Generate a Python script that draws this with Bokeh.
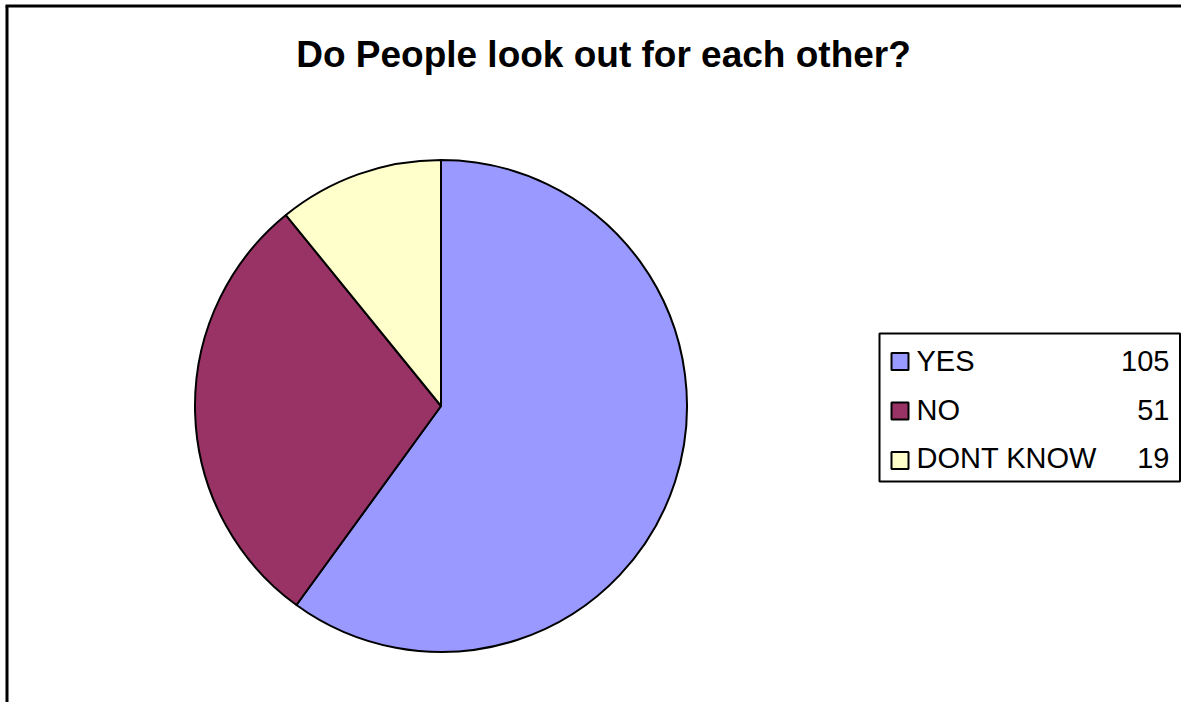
import math
from bokeh.plotting import figure
from bokeh.models import Range1d, ColumnDataSource
from bokeh.core.properties import value
from bokeh.embed import file_html
from bokeh.resources import INLINE

# ---- data ----
title_text = "Do People look out for each other?"
categories = ["YES", "NO", "DONT KNOW"]
counts = [105, 51, 19]

# ---- styles ----
colors = ["#9999FF", "#993366", "#FFFFCC"]
FONT = "Liberation Sans"

W, H = 1181, 702
p = figure(width=W, height=H, output_backend="svg", toolbar_location=None,
           x_range=Range1d(0, W), y_range=Range1d(0, H), min_border=0,
           background_fill_color="white", border_fill_color="white")
p.axis.visible = False
p.grid.visible = False
p.outline_line_color = None

# outer frame (top and left edges visible)
p.line([6.5, 6.5], [0, 696.5], line_color="black", line_width=3)
p.line([5, W], [696.5, 696.5], line_color="black", line_width=3)

# title
p.text(x=[603], y=[648], text=[title_text], text_font=value(FONT),
       text_font_size="37px", text_font_style="bold", text_align="center",
       text_baseline="alphabetic", text_color="black")

# pie
cx, cy, r = 440.5, 296.5, 246
total = sum(counts)
starts, ends = [], []
a = math.pi / 2
for c in counts:
    starts.append(a)
    a = a - 2 * math.pi * c / total
    ends.append(a)
src = ColumnDataSource(dict(start=starts, end=ends, color=colors, cat=categories, n=counts))
p.wedge(x=cx, y=cy, radius=r, start_angle="start", end_angle="end", direction="clock",
        fill_color="color", line_color="black", line_width=2, source=src)

# legend box
lx0, lx1, ly0, ly1 = 879, 1179.5, 221, 369
p.quad(left=[lx0], right=[lx1], bottom=[ly0], top=[ly1], fill_color="white",
       line_color="black", line_width=2)
row_sq_y = [341, 291.5, 242]
row_base_y = [342, 293, 245]
p.rect(x=[899.5] * 3, y=row_sq_y, width=17, height=17, fill_color=colors,
       line_color="black", line_width=2)
p.text(x=[916] * 3, y=row_base_y, text=categories, text_font=value(FONT),
       text_font_size="29px", text_align="left", text_baseline="alphabetic",
       text_color="black")
p.text(x=[1169] * 3, y=row_base_y, text=[str(c) for c in counts], text_font=value(FONT),
       text_font_size="29px", text_align="right", text_baseline="alphabetic",
       text_color="black")

open("out.html", "w").write(file_html(p, INLINE))
